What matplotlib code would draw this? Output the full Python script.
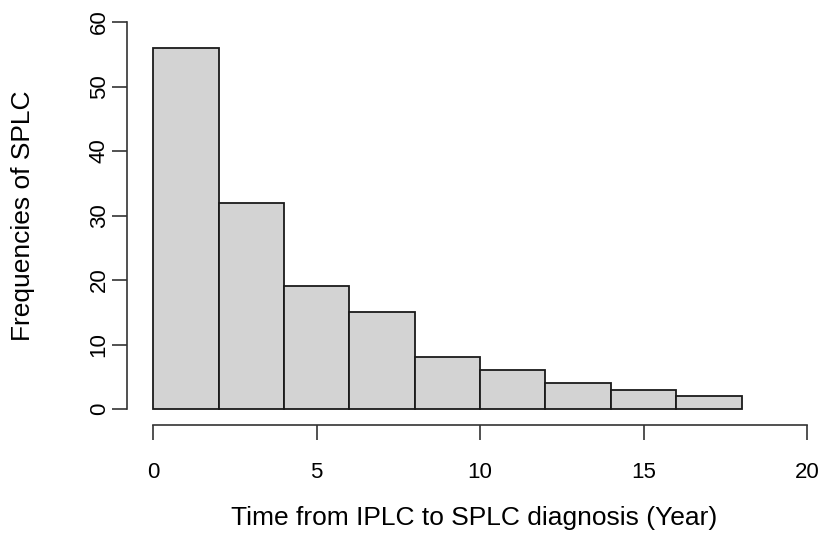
import matplotlib.pyplot as plt
import numpy as np

plt.rcParams['font.family'] = ['Liberation Sans', 'DejaVu Sans']

# 直方图数据（每2年一组）
bin_edges = [0, 2, 4, 6, 8, 10, 12, 14, 16, 18]
counts = [56, 32, 19, 15, 8, 6, 4, 3, 2]
x_ticks = [0, 5, 10, 15, 20]
y_ticks = [0, 10, 20, 30, 40, 50, 60]

fig = plt.figure(figsize=(8.24, 5.33), dpi=100)
ax = fig.add_axes([127 / 824, (533 - 425) / 533, 680 / 824, 403 / 533])

left = np.array(bin_edges[:-1])
width = np.diff(bin_edges)
ax.bar(left, counts, width=width, align='edge', color='#d3d3d3',
       edgecolor='#1a1a1a', linewidth=1.3)

ax.set_xlim(-0.8, 20)
ax.set_ylim(-2.48, 60)
for s in ['top', 'right']:
    ax.spines[s].set_visible(False)
ax.spines['left'].set_bounds(0, 60)
ax.spines['bottom'].set_bounds(0, 20)
for s in ['left', 'bottom']:
    ax.spines[s].set_linewidth(1.2)
    ax.spines[s].set_color('#333333')

ax.set_xticks(x_ticks)
ax.set_yticks(y_ticks)
ax.tick_params(length=11, width=1.2, color='#333333', labelsize=16)
ax.tick_params(axis='x', pad=15.5)
ax.tick_params(axis='y', pad=1.5)
for lab in ax.get_yticklabels():
    lab.set_rotation(90)
    lab.set_va('center')

ax.set_xlabel("Time from IPLC to SPLC diagnosis (Year)", fontsize=19, va='center')
ax.set_ylabel("Frequencies of SPLC", fontsize=19, va='center')
ax.xaxis.set_label_coords(474 / 824, 1 - 518 / 533, transform=fig.transFigure)
ax.yaxis.set_label_coords(23 / 824, 1 - 216 / 533, transform=fig.transFigure)

plt.savefig("out.png", dpi=100)
